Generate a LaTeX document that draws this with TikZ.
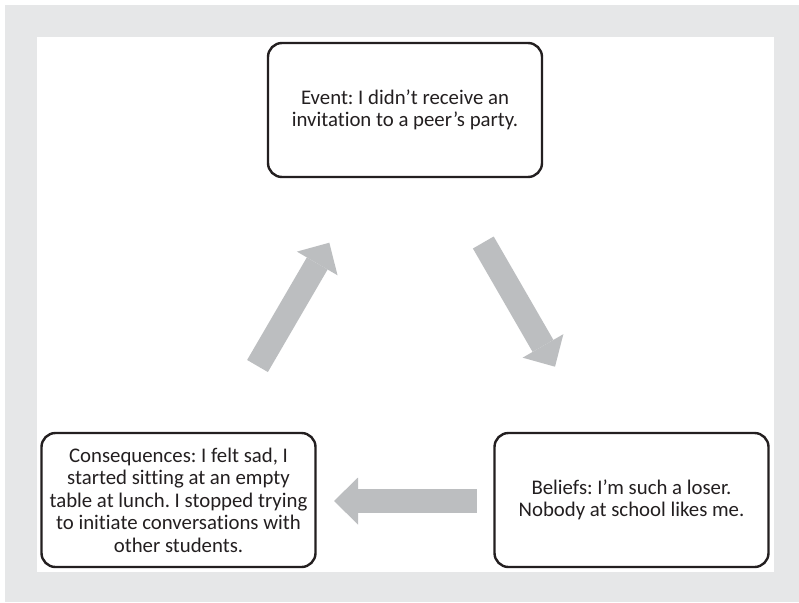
\documentclass[tikz,border=0pt]{standalone}
\usepackage{fontspec}
\setmainfont[Ligatures={TeX,NoCommon}]{Carlito}
\usetikzlibrary{arrows.meta}
\definecolor{panelgray}{HTML}{E6E7E8}
\definecolor{arrowgray}{HTML}{BCBEC0}
\definecolor{ink}{HTML}{231F20}
\frenchspacing
\begin{document}
\begin{tikzpicture}[x=1pt,y=-1pt,
  stagebox/.style={draw=ink, line width=2.4pt, rounded corners=14pt,
    minimum width=274pt, minimum height=134pt, inner sep=0pt,
    align=center, text=ink, font=\fontsize{20.8}{22.5}\selectfont},
  cyclearrow/.style={draw=arrowgray, line width=24pt,
    -{Triangle[length=24pt,width=47pt,line width=0pt]}}]
  % page frame
  \useasboundingbox (0,0) rectangle (799,602);
  \fill[white] (0,0) rectangle (799,602);
  \fill[panelgray] (5,5) rectangle (799,602);
  \fill[white] (37,37) rectangle (774,572);

  % the three stages
  \node[stagebox] (event) at (405,110)
    {Event: I didn't receive an\\invitation to a peer's party.};
  \node[stagebox] (beliefs) at (631.5,500)
    {Beliefs: I'm such a loser.\\Nobody at school likes me.};
  \node[stagebox] (conseq) at (178.5,500)
    {Consequences: I felt sad, I\\started sitting at an empty\\table at lunch. I stopped trying\\to initiate conversations with\\other students.};

  % arrow end points
  \coordinate (ev-out) at (483.3,242.5);
  \coordinate (be-in) at (555,366.7);
  \coordinate (be-out) at (476.7,501);
  \coordinate (co-in) at (334,501);
  \coordinate (co-out) at (257.5,366);
  \coordinate (ev-in) at (329.3,242.7);

  % cycle arrows
  \draw[cyclearrow] (ev-out) -- (be-in);
  \draw[cyclearrow] (be-out) -- (co-in);
  \draw[cyclearrow] (co-out) -- (ev-in);
\end{tikzpicture}
\end{document}
